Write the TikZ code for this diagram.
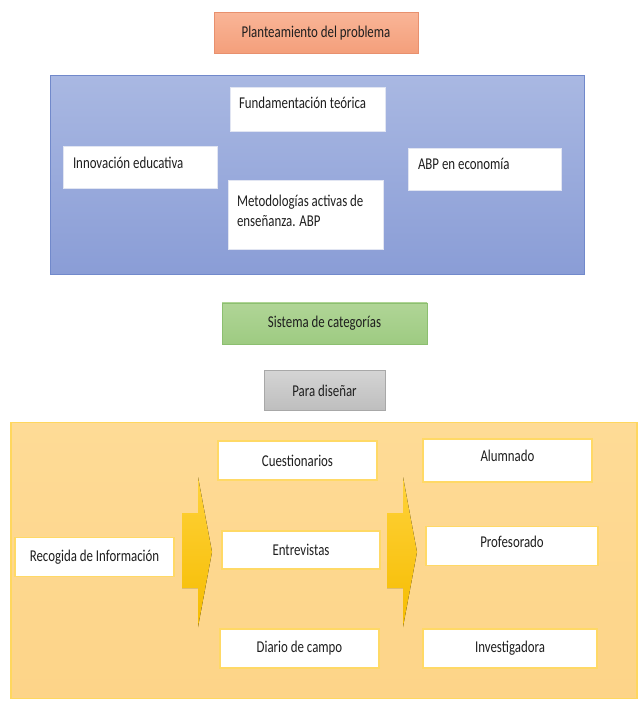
\documentclass[tikz,border=0pt]{standalone}
\usepackage{fontspec}
\setmainfont{Carlito}[FakeStretch=0.78]
\usetikzlibrary{positioning}

\definecolor{planA}{HTML}{F9B597}
\definecolor{planB}{HTML}{F49F7B}
\definecolor{planline}{HTML}{E8906E}
\definecolor{blueA}{HTML}{A9B8E2}
\definecolor{blueB}{HTML}{8A9DD6}
\definecolor{blueline}{HTML}{7189CB}
\definecolor{catA}{HTML}{B0D596}
\definecolor{catB}{HTML}{9ECB82}
\definecolor{catline}{HTML}{8CBF70}
\definecolor{paraA}{HTML}{D4D4D4}
\definecolor{paraB}{HTML}{BEBEBE}
\definecolor{paraline}{HTML}{A8A8A8}
\definecolor{orA}{HTML}{FEDB96}
\definecolor{orB}{HTML}{FDD488}
\definecolor{orline}{HTML}{FFD75E}
\definecolor{noteline}{HTML}{E1E5F2}
\definecolor{itemline}{HTML}{FFD966}
\definecolor{arrA}{HTML}{FFD23A}
\definecolor{arrB}{HTML}{F5BC00}
\definecolor{txtgray}{HTML}{1E1E1E}

\begin{document}
\begin{tikzpicture}[
  x=1pt, y=-1pt,
  every node/.style={font=\fontsize{16.5}{20}\selectfont, text=txtgray},
  titlebox/.style={rectangle, inner sep=0pt, text centered, minimum height=41pt, line width=0.8pt},
  planbox/.style={titlebox, top color=planA, bottom color=planB, draw=planline, minimum width=204pt},
  catbox/.style={titlebox, top color=catA, bottom color=catB, draw=catline, minimum width=205pt},
  parabox/.style={titlebox, top color=paraA, bottom color=paraB, draw=paraline, minimum width=121pt, minimum height=40pt},
  bluepanel/.style={rectangle, inner sep=0pt, top color=blueA, bottom color=blueB, draw=blueline, line width=1pt, minimum width=534pt, minimum height=199pt},
  orangepanel/.style={rectangle, inner sep=0pt, top color=orA, bottom color=orB, draw=orline, line width=1.2pt, minimum width=626pt, minimum height=276pt},
  notebox/.style={rectangle, fill=white, draw=noteline, line width=0.6pt, inner xsep=9pt, inner ysep=0pt, align=flush left, text width=137pt},
  itembox/.style={rectangle, fill=white, draw=itemline, line width=1.2pt, inner sep=0pt, text centered, minimum width=159pt, minimum height=39pt},
  blockarrow/.style={top color=arrA, bottom color=arrB, draw=none},
]
\useasboundingbox (0,0) rectangle (638,705);

%% Marco teorico
\node[bluepanel] (marco) at (317,174.5) {};
\node[planbox, above=21pt of marco, xshift=-1pt] (plan) {Planteamiento del problema};

\node[notebox, text height=21pt, text depth=23pt] (fund) at (307.5,109) {Fundamentación teórica};
\node[notebox, inner xsep=10pt, text width=134.5pt, text height=22pt, text depth=20pt] (innov) at (140.25,167) {Innovación educativa};
\node[notebox, text height=26pt, text depth=43pt] (metod) at (305.5,214.5) {Metodologías activas de\\enseñanza. ABP};
\node[notebox, inner xsep=10pt, text width=133pt, text height=21pt, text depth=21pt] (abp) at (484.5,169) {ABP en economía};

%% Categorias
\node[catbox, below=28pt of marco, xshift=7.5pt] (sist) {Sistema de categorías};
\node[parabox, below=26pt of sist] (para) {Para diseñar};

%% Recogida
\node[orangepanel, below=11pt of para, xshift=-0.5pt] (campo) {};

\node[itembox] (recog) at (94.5,557) {Recogida de Información};

\node[itembox] (cuest) at (297.5,460.5) {Cuestionarios};
\node[itembox, minimum width=158pt, minimum height=38pt] (entr) at (301,550) {Entrevistas};
\node[itembox] (diario) at (299.5,648.5) {Diario de campo};

\node[itembox, minimum width=169pt, text height=22pt, text depth=21pt] (alum) at (507.5,460.5) {Alumnado};
\node[itembox, minimum width=172pt, text height=20pt, text depth=18pt] (prof) at (512,546) {Profesorado};
\node[itembox, minimum width=174pt] (invest) at (510,648.5) {Investigadora};

%% Flechas
\foreach \ax in {182,387}
  \fill[blockarrow] (\ax,513) -- (\ax+16,513) -- (\ax+16,477) -- (\ax+30,552)
    -- (\ax+16,627) -- (\ax+16,588) -- (\ax,588) -- cycle;

\end{tikzpicture}
\end{document}
